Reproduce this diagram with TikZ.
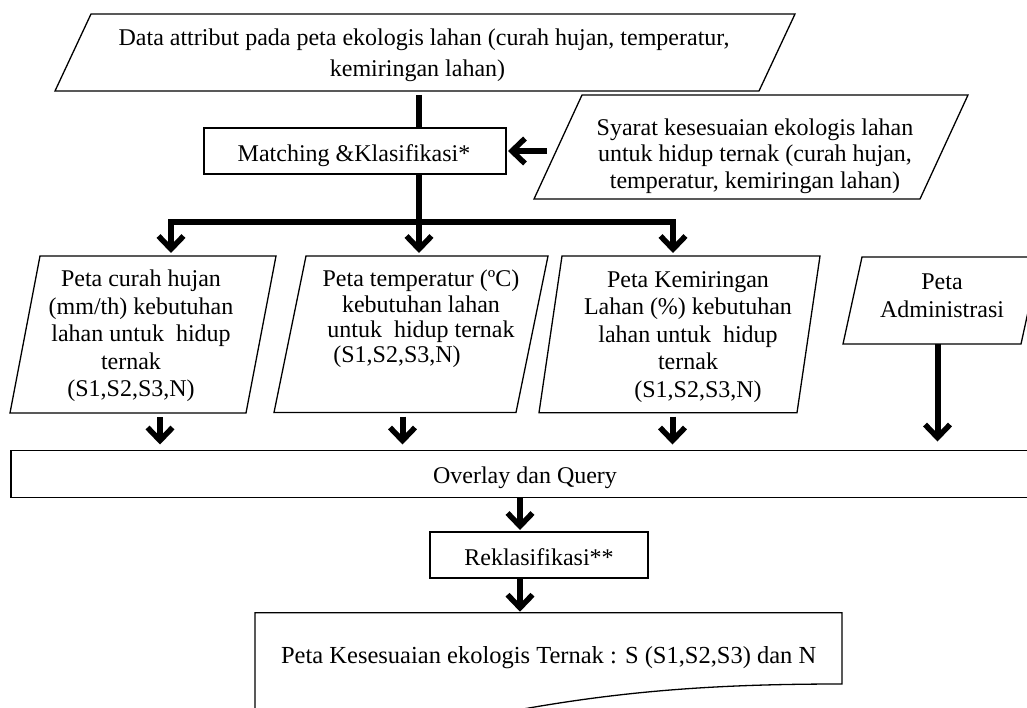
\documentclass[tikz,border=0pt]{standalone}
\usepackage{fontspec}
\setmainfont{Liberation Serif}
\usetikzlibrary{arrows.meta,calc}
\newcommand\paradraw[2]{\draw[shapeline] (#1.south west) -- ([xshift=-#2pt]#1.south east) -- (#1.north east) -- ([xshift=#2pt]#1.north west) -- cycle;}
\begin{document}
\begin{tikzpicture}[x=1pt,y=-1pt,
  shapeline/.style={draw=black,line width=1.3pt,line join=miter},
  bb/.style={rectangle,inner sep=0pt,outer sep=0pt},
  box/.style={bb,shapeline},
  txt/.style={inner sep=0pt,align=center},
  conn/.style={line width=6pt},
  arr/.style={conn,-{Straight Barb[length=13pt,width=25pt,line width=5.5pt,sharp]}},
  arrboth/.style={conn,line join=miter,{Straight Barb[length=13pt,width=25pt,line width=5.5pt,sharp]}-{Straight Barb[length=13pt,width=25pt,line width=5.5pt,sharp]}}]
\fill[white] (0,0) rectangle (1027,708);
\useasboundingbox (0,0) rectangle (1027,708);
\clip (0,0) rectangle (1027,708);

% shapes
\node[bb,minimum width=740pt,minimum height=77pt] (data) at (425,52.5) {};
\node[box,minimum width=302pt,minimum height=46pt] (match) at (355,151) {};
\node[bb,minimum width=434pt,minimum height=104pt] (syarat) at (751,147) {};
\node[bb,minimum width=266pt,minimum height=157pt] (curah) at (143,334.5) {};
\node[bb,minimum width=274pt,minimum height=156.5pt] (temp) at (411,334.25) {};
\node[bb,minimum width=281pt,minimum height=156.7pt] (kem) at (679.5,334.35) {};
\node[bb,minimum width=197pt,minimum height=87pt] (admin) at (941.5,300.5) {};
\node[box,minimum width=1029pt,minimum height=46.8pt] (overlay) at (525.5,473.9) {};
\node[box,minimum width=218pt,minimum height=46pt] (reklas) at (539,555) {};
\node[bb,minimum width=587pt,minimum height=71.3pt] (doc) at (548.5,648.35) {};

\paradraw{data}{36}
\paradraw{syarat}{48}
\paradraw{curah}{30}
\paradraw{temp}{32}
\paradraw{kem}{23}
\paradraw{admin}{19}
\draw[shapeline] (doc.south east) .. controls (680,684) and (560,695) .. (380,740) -- (255,740) -- (doc.north west) -- (doc.north east) -- cycle;

% texts
\node[txt,font=\fontsize{24}{31}\selectfont] (datat) at (424,55.5) {Data attribut pada peta ekologis lahan (curah hujan, temperatur,\\kemiringan lahan)\hspace*{13pt}};
\node[txt,anchor=base,font=\fontsize{24}{28}\selectfont] (matcht) at (354,162) {Matching \&Klasifikasi*};
\node[txt,font=\fontsize{24}{26.5}\selectfont] (syaratt) at (755,155.8) {Syarat kesesuaian ekologis lahan\\untuk hidup ternak (curah hujan,\\temperatur, kemiringan lahan)};
\node[txt,font=\fontsize{24}{27.5}\selectfont] (curaht) at (141,336) {Peta curah hujan\\(mm/th) kebutuhan\\lahan untuk\ \ hidup\\ternak\rule{20pt}{0pt}\\(S1,S2,S3,N)\hspace*{20pt}};
\node[txt,font=\fontsize{24}{25.3}\selectfont] (tempt) at (421,318.9) {Peta temperatur (ºC)\\kebutuhan lahan\\untuk\ \ hidup ternak\\(S1,S2,S3,N)\hspace*{48pt}};
\node[txt,font=\fontsize{24}{27.5}\selectfont] (kemt) at (688,337) {Peta Kemiringan\\Lahan (\%) kebutuhan\\lahan untuk\ \ hidup\\ternak\\\hspace*{20pt}(S1,S2,S3,N)};
\node[txt,font=\fontsize{24}{28}\selectfont] (admint) at (942,295.8) {Peta\\Administrasi};
\node[txt,anchor=base,font=\fontsize{24}{28}\selectfont] (overlayt) at (525,483) {Overlay dan Query};
\node[txt,anchor=base,font=\fontsize{24}{28}\selectfont] (reklast) at (539,565) {Reklasifikasi**};
\node[txt,anchor=base,font=\fontsize{24.5}{28}\selectfont] (doct) at (548.7,663) {Peta Kesesuaian ekologis Ternak : S (S1,S2,S3) dan N};

% connectors
\coordinate (xc) at (419,0);
\coordinate (split) at (419,222);
\coordinate (xl) at (171,222);
\coordinate (xr) at (673,222);
\coordinate (a1) at (160,0);
\coordinate (a2) at (402.5,0);
\coordinate (a3) at (672.5,0);
\coordinate (a4) at (937.5,0);
\coordinate (xm) at (520,0);
\coordinate (sy) at ($(syarat.west |- match.east)+(13,0)$);

\draw[conn,shorten <=4pt] (data.south -| xc) -- (match.north -| xc);
\draw[conn] (match.south -| xc) -- (split);
\draw[arr,shorten >=3pt] (split) -- (temp.north -| split);
\draw[arrboth,shorten <=3pt,shorten >=3pt] (curah.north -| xl) -- (xl) -- (xr) -- (kem.north -| xr);
\draw[arr,shorten >=2pt] (sy) -- (match.east);

\draw[arr,shorten <=4pt,shorten >=6pt] (curah.south -| a1) -- (overlay.north -| a1);
\draw[arr,shorten <=4pt,shorten >=6pt] (temp.south -| a2) -- (overlay.north -| a2);
\draw[arr,shorten <=4pt,shorten >=6pt] (kem.south -| a3) -- (overlay.north -| a3);
\draw[arr,shorten >=9pt] (admin.south -| a4) -- (overlay.north -| a4);
\draw[arr,shorten >=2pt] (overlay.south -| xm) -- (reklas.north -| xm);
\draw[arr,shorten >=1pt] (reklas.south -| xm) -- (doc.north -| xm);
\end{tikzpicture}
\end{document}
